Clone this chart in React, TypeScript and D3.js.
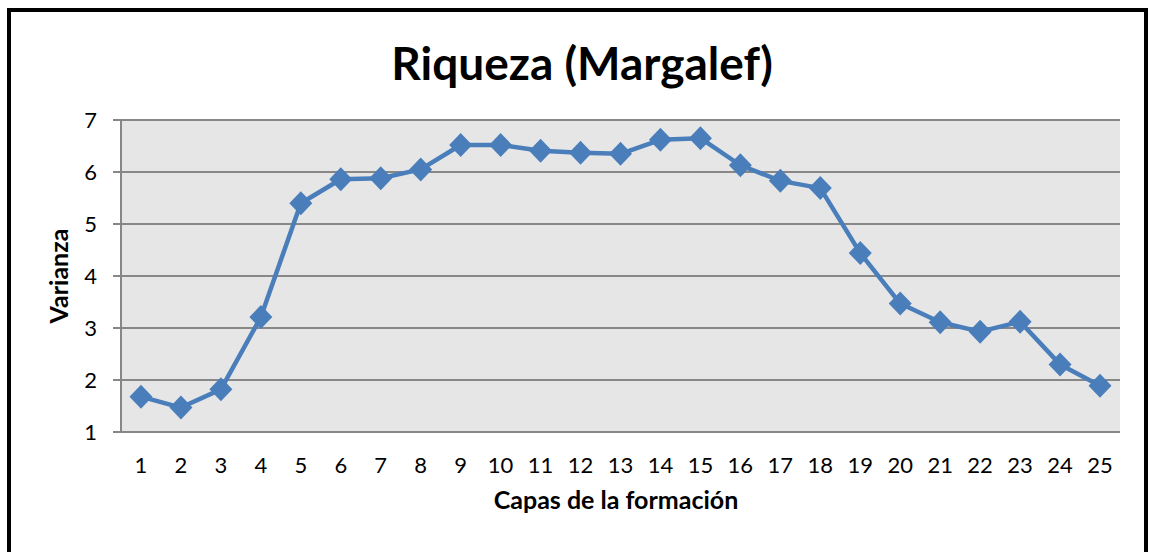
import * as d3 from "d3";
import { useEffect, useRef } from "react";

const capas = d3.range(1, 26).map(String);
const riqueza = [
  1.68, 1.47, 1.82, 3.21, 5.4, 5.86, 5.88, 6.05, 6.52, 6.52, 6.41, 6.37, 6.35,
  6.62, 6.65, 6.13, 5.83, 5.69, 4.44, 3.47, 3.11, 2.93, 3.12, 2.3, 1.89,
];
const yTicks = [1, 2, 3, 4, 5, 6, 7];

const App = () => {
  const ref = useRef<SVGSVGElement>(null);

  useEffect(() => {
    const svg = d3.select(ref.current);
    svg.selectAll("*").remove();

    const width = 1150,
      height = 552;
    const left = 121,
      right = 1120,
      top = 120,
      bottom = 432;
    const font = "Lato, 'Open Sans', sans-serif";
    const blue = "#4a7ebb";

    svg.append("rect").attr("width", width).attr("height", height).attr("fill", "#fff");

    // outer frame (bottom edge falls outside the picture)
    svg.append("rect")
      .attr("x", 9)
      .attr("y", 10)
      .attr("width", 1137)
      .attr("height", 560)
      .attr("fill", "none")
      .attr("stroke", "#000")
      .attr("stroke-width", 4);

    var x = d3.scaleBand().domain(capas).range([left, right]).padding(0);
    var y = d3.scaleLinear().domain([1, 7]).range([bottom, top]);
    const cx = (c) => x(c) + x.bandwidth() / 2;

    svg.append("rect")
      .attr("x", left)
      .attr("y", top)
      .attr("width", right - left)
      .attr("height", bottom - top)
      .attr("fill", "#e6e6e6");

    // gridlines + y ticks
    svg.append("g")
      .selectAll("line")
      .data(yTicks)
      .join("line")
      .attr("x1", left - 8)
      .attr("x2", right)
      .attr("y1", (d) => y(d))
      .attr("y2", (d) => y(d))
      .attr("stroke", "#878787")
      .attr("stroke-width", 2);

    svg.append("line")
      .attr("x1", left)
      .attr("x2", left)
      .attr("y1", top)
      .attr("y2", bottom)
      .attr("stroke", "#878787")
      .attr("stroke-width", 2);

    svg.append("g")
      .selectAll("text")
      .data(yTicks)
      .join("text")
      .attr("x", 97)
      .attr("y", (d) => y(d) + 8)
      .attr("text-anchor", "end")
      .attr("font-family", font)
      .attr("font-size", 22)
      .attr("fill", "#000")
      .text((d) => d);

    svg.append("g")
      .selectAll("text")
      .data(capas)
      .join("text")
      .attr("x", (d) => cx(d))
      .attr("y", 473)
      .attr("text-anchor", "middle")
      .attr("font-family", font)
      .attr("font-size", 22)
      .attr("fill", "#000")
      .text((d) => d);

    const line = d3.line<number>()
      .x((d, i) => cx(capas[i]))
      .y((d) => y(d));

    svg.append("path")
      .datum(riqueza)
      .attr("d", line)
      .attr("fill", "none")
      .attr("stroke", blue)
      .attr("stroke-width", 4.5)
      .attr("stroke-linejoin", "round");

    svg.append("g")
      .selectAll("path")
      .data(riqueza)
      .join("path")
      .attr("transform", (d, i) => `translate(${cx(capas[i])},${y(d)})`)
      .attr("d", "M0,-12L11.5,0L0,12L-11.5,0Z")
      .attr("fill", blue);

    svg.append("text")
      .attr("x", 582)
      .attr("y", 80)
      .attr("text-anchor", "middle")
      .attr("font-family", font)
      .attr("font-weight", "bold")
      .attr("font-size", 46)
      .attr("fill", "#000")
      .text("Riqueza (Margalef)");

    svg.append("text")
      .attr("transform", "translate(68,276) rotate(-90)")
      .attr("text-anchor", "middle")
      .attr("font-family", font)
      .attr("font-weight", "bold")
      .attr("font-size", 25)
      .attr("fill", "#000")
      .text("Varianza");

    svg.append("text")
      .attr("x", 616)
      .attr("y", 509)
      .attr("text-anchor", "middle")
      .attr("font-family", font)
      .attr("font-weight", "bold")
      .attr("font-size", 25)
      .attr("fill", "#000")
      .text("Capas de la formación");
  }, []);

  return (
    <svg
      ref={ref}
      width={1150}
      height={552}
      style={{ position: "absolute", left: 0, top: 0, display: "block" }}
    />
  );
};

export default App;
